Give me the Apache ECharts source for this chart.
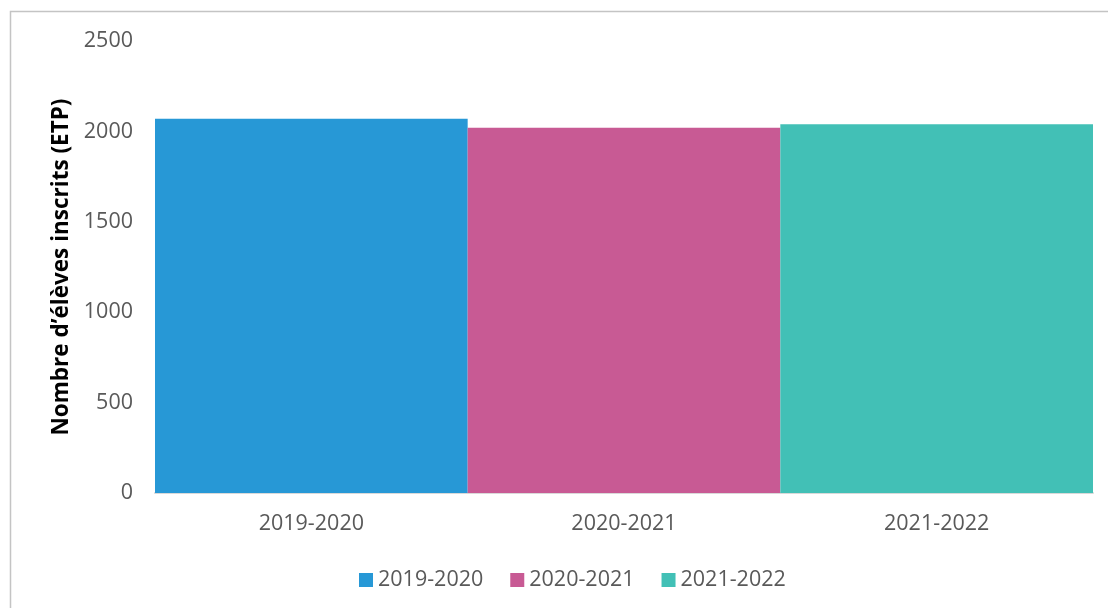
<!DOCTYPE html>
<html>
<head>
<meta charset="utf-8">
<script src="https://cdn.jsdelivr.net/npm/echarts@6/dist/echarts.min.js"></script>
<style>
html,body{margin:0;padding:0;background:#fff;}
#c{width:1108px;height:608px;}
</style>
</head>
<body>
<div id="c"></div>
<script>
var categories = ['2019-2020', '2020-2021', '2021-2022'];
var seriesNames = ['2019-2020', '2020-2021', '2021-2022'];
var values = [2070, 2020, 2040];
var colors = ['#2798d6', '#c85a94', '#42c0b6'];
var yTicks = { min: 0, max: 2500, interval: 500 };

var chart = echarts.init(document.getElementById('c'));
var series = seriesNames.map(function (name, i) {
  var d = categories.map(function (c, j) { return j === i ? values[i] : '-'; });
  return {
    name: name,
    type: 'bar',
    stack: 'all',
    barWidth: '100%',
    data: d,
    itemStyle: { color: colors[i] }
  };
});
chart.setOption({
  animation: false,
  graphic: [{
    type: 'rect',
    shape: { x: 10.5, y: 11.5, width: 1200, height: 700 },
    style: { fill: 'none', stroke: '#c4c4c4', lineWidth: 1.5 },
    silent: true
  }],
  grid: { left: 155, right: 15, top: 41, bottom: 115 },
  legend: {
    left: 354,
    top: 564,
    itemWidth: 14,
    itemHeight: 14,
    itemGap: 27,
    icon: 'rect',
    textStyle: { fontFamily: 'Open Sans', fontSize: 21.5, color: '#595959', padding: [0, 0, 0, 0] },
    data: seriesNames
  },
  xAxis: {
    type: 'category',
    data: categories,
    axisLine: { lineStyle: { color: '#d9d9d9', width: 2 } },
    axisTick: { show: false },
    axisLabel: { fontFamily: 'Open Sans', fontSize: 21.5, color: '#595959', margin: 20 }
  },
  yAxis: {
    type: 'value',
    min: yTicks.min,
    max: yTicks.max,
    interval: yTicks.interval,
    name: 'Nombre d\u2019élèves inscrits (ETP)',
    nameLocation: 'middle',
    nameGap: 78,
    nameTextStyle: { fontFamily: 'Open Sans', fontSize: 22.5, fontWeight: 'bold', color: '#000' },
    axisLine: { show: false },
    axisTick: { show: false },
    splitLine: { show: false },
    axisLabel: {
      fontFamily: 'Open Sans', fontSize: 21.5, color: '#595959', margin: 22,
      formatter: function (v) { return String(v); }
    }
  },
  series: series
});
</script>
</body>
</html>
